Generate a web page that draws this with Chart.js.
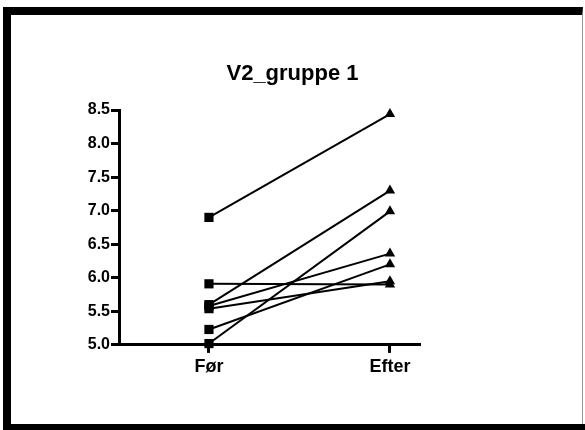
<!DOCTYPE html>
<html>
<head>
<meta charset="utf-8">
<script src="https://cdn.jsdelivr.net/npm/chart.js@4"></script>
<style>
  html, body { margin: 0; padding: 0; background: #fff; }
  body { width: 585px; height: 430px; position: relative; overflow: hidden; }
  #frame {
    position: absolute; left: 3px; top: 7px; width: 571px; height: 409px;
    border-top: 8px solid #000; border-left: 8px solid #000; border-bottom: 8px solid #000;
    border-right: 1px solid #999;
  }
  #bottomBar { position: absolute; left: 3px; top: 424px; width: 582px; height: 6px; background: #000; }
  #wrap { position: absolute; left: 0; top: 0; width: 585px; height: 430px; }
</style>
</head>
<body>
<div id="frame"></div>
<div id="bottomBar"></div>
<div id="wrap"><canvas id="chart" width="585" height="430"></canvas></div>
<script>
// categories and paired values (Før -> Efter)
const categories = ['Før', 'Efter'];
const before = [6.90, 5.91, 5.60, 5.58, 5.54, 5.23, 5.02];
const after = [8.44, 5.90, 7.30, 6.36, 5.95, 6.20, 6.99];
const yMin = 5.0;
const yMax = 8.5;
const yStep = 0.5;

const fontFamily = 'Liberation Sans, Arial, sans-serif';

const datasets = before.map((b, i) => ({
    data: [{ x: 0, y: b }, { x: 1, y: after[i] }],
    borderColor: '#000',
    backgroundColor: '#000',
    borderWidth: 2,
    pointStyle: ['rect', 'triangle'],
    pointRadius: [6.5, 6],
    pointBorderWidth: 0,
    clip: false
}));

const ctx = document.getElementById('chart').getContext('2d');
const chart = new Chart(ctx, {
    type: 'line',
    data: { datasets: datasets },
    options: {
        responsive: false,
        animation: false,
        layout: { padding: { top: 61, left: 79, right: 79, bottom: 49.5 } },
        plugins: {
            legend: { display: false },
            tooltip: { enabled: false },
            title: {
                display: true,
                text: 'V2_gruppe 1',
                color: '#000',
                font: { family: fontFamily, size: 22, weight: 'bold', lineHeight: 1.2 },
                padding: { top: 0, bottom: 22.6 }
            }
        },
        scales: {
            x: {
                type: 'linear',
                min: -0.497,
                max: 1.166,
                afterBuildTicks: scale => { scale.ticks = categories.map((c, i) => ({ value: i })); },
                ticks: {
                    color: '#000',
                    padding: 3,
                    font: { family: fontFamily, size: 18, weight: 'bold' },
                    callback: v => categories[v]
                },
                grid: { display: true, drawOnChartArea: false, drawTicks: true, tickLength: 8, tickWidth: 3, color: '#000' },
                border: { display: true, width: 3, color: '#000' }
            },
            y: {
                min: yMin,
                max: yMax,
                afterFit: scale => { scale.width = 40; },
                ticks: {
                    stepSize: yStep,
                    color: '#000',
                    padding: 1,
                    font: { family: fontFamily, size: 16, weight: 'bold' },
                    callback: v => Number(v).toFixed(1)
                },
                grid: { display: true, drawOnChartArea: false, drawTicks: true, tickLength: 8, tickWidth: 3, color: '#000' },
                border: { display: true, width: 3, color: '#000' }
            },
            // empty spacer on the right so the plot ends where the original does
            yRight: {
                position: 'right',
                display: true,
                afterFit: scale => { scale.width = 86; },
                ticks: { display: false },
                grid: { display: false },
                border: { display: false }
            }
        }
    }
});
</script>
</body>
</html>
